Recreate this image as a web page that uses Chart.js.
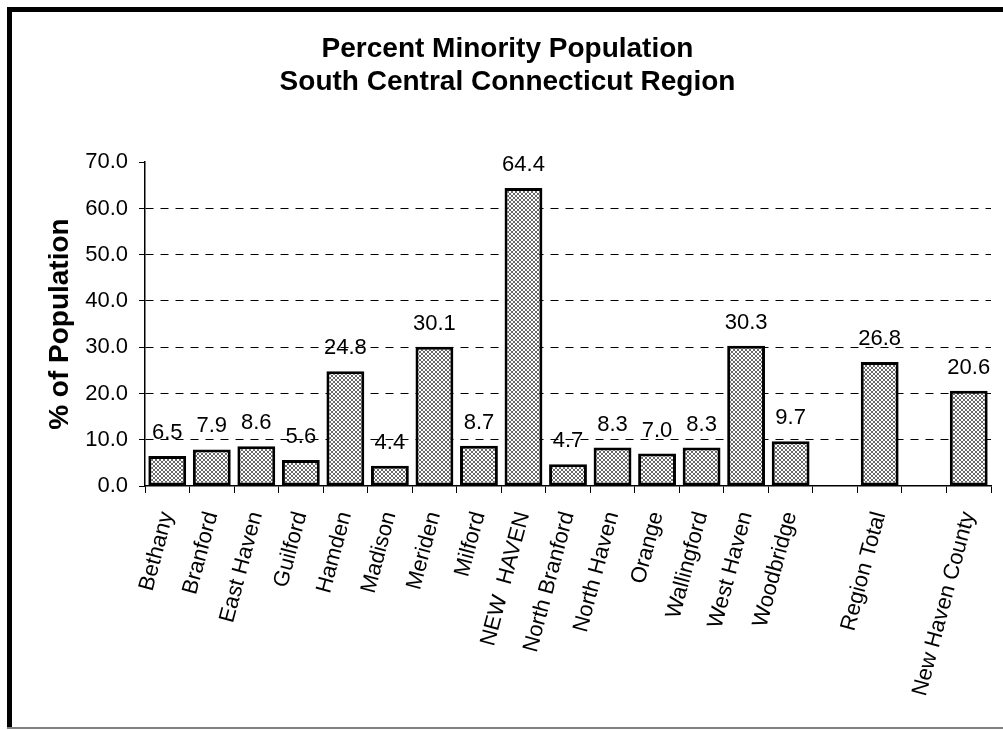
<!DOCTYPE html>
<html>
<head>
<meta charset="utf-8">
<title>Percent Minority Population</title>
<script src="https://cdn.jsdelivr.net/npm/chart.js@4.4.1/dist/chart.umd.min.js"></script>
<style>
  html, body { margin: 0; padding: 0; background: #fff; }
  #wrap { position: relative; width: 1003px; height: 730px; }
</style>
</head>
<body>
<div id="wrap"><canvas id="chart" width="1003" height="730"></canvas></div>
<script>
// Towns of the region, followed by the two summary bars (blank slots separate them)
const categories = [
  'Bethany', 'Branford', 'East Haven', 'Guilford', 'Hamden', 'Madison',
  'Meriden', 'Milford', 'NEW  HAVEN', 'North Branford', 'North Haven',
  'Orange', 'Wallingford', 'West Haven', 'Woodbridge', '',
  'Region Total', '', 'New Haven County'
];
// Percent of population belonging to a minority group
const minorityPct = [
  6.5, 7.9, 8.6, 5.6, 24.8, 4.4,
  30.1, 8.7, 64.4, 4.7, 8.3,
  7.0, 8.3, 30.3, 9.7, null,
  26.8, null, 20.6
];
const titleLines = ['Percent Minority Population', 'South Central Connecticut Region'];
const yAxisTitle = '% of Population';
const yTicks = { min: 0, max: 70, step: 10 };

const FONT = "'Liberation Sans', Arial, Helvetica, sans-serif";

// Small diamond cross-hatch used to fill the bars
function makeHatch() {
  const c = document.createElement('canvas');
  c.width = 4; c.height = 4;
  const g = c.getContext('2d');
  g.fillStyle = '#ffffff';
  g.fillRect(0, 0, 4, 4);
  g.fillStyle = '#6a6a6a';
  for (let i = 0; i < 4; i++) {
    g.fillRect(i, i, 1, 1);
    g.fillRect(3 - i, i, 1, 1);
  }
  return g.createPattern(c, 'repeat');
}

// White page with the chart-area frame (heavy left/top edges, light bottom edge)
const framePlugin = {
  id: 'frame',
  beforeDraw(chart) {
    const { ctx, width, height } = chart;
    ctx.save();
    ctx.fillStyle = '#ffffff';
    ctx.fillRect(0, 0, width, height);
    ctx.fillStyle = '#000000';
    ctx.fillRect(7, 7, 5, height - 8);
    ctx.fillRect(7, 7, width - 7, 5);
    ctx.fillStyle = '#808080';
    ctx.fillRect(7, height - 3, width - 7, 2);
    ctx.restore();
  }
};

// Value printed above each bar
const valueLabels = {
  id: 'valueLabels',
  afterDatasetsDraw(chart) {
    const { ctx } = chart;
    const meta = chart.getDatasetMeta(0);
    const data = chart.data.datasets[0].data;
    ctx.save();
    ctx.font = `22px ${FONT}`;
    ctx.fillStyle = '#000';
    ctx.textAlign = 'center';
    ctx.textBaseline = 'alphabetic';
    meta.data.forEach((bar, i) => {
      const v = data[i];
      if (v === null || v === undefined) return;
      ctx.fillText(v.toFixed(1), bar.x, bar.y - 17);
    });
    ctx.restore();
  }
};

const ctx = document.getElementById('chart').getContext('2d');
new Chart(ctx, {
  type: 'bar',
  data: {
    labels: categories,
    datasets: [{
      data: minorityPct,
      backgroundColor: makeHatch(),
      borderColor: '#000000',
      borderWidth: 3,
      borderSkipped: false,
      categoryPercentage: 1.0,
      barPercentage: 0.85
    }]
  },
  options: {
    responsive: false,
    animation: false,
    devicePixelRatio: 1,
    layout: { padding: { left: 24, right: 12, top: 14, bottom: 4 } },
    plugins: {
      legend: { display: false },
      tooltip: { enabled: false },
      title: {
        display: true,
        text: titleLines,
        color: '#000',
        font: { family: FONT, size: 28, weight: 'bold', lineHeight: 1.2 },
        padding: { top: 18, bottom: 63 }
      }
    },
    scales: {
      x: {
        offset: true,
        grid: {
          offset: true,
          drawOnChartArea: false,
          drawTicks: true,
          tickLength: 7,
          tickColor: '#000',
          tickWidth: 1
        },
        border: { display: true, color: '#000', width: 1.5 },
        ticks: {
          color: '#000',
          font: { family: FONT, size: 22 },
          minRotation: 75,
          maxRotation: 75,
          autoSkip: false,
          padding: 16
        },
        afterFit(axis) {
          axis.height = 240;
          axis.paddingLeft = 0;
          axis.paddingRight = 0;
        }
      },
      y: {
        min: yTicks.min,
        max: yTicks.max,
        grid: {
          color: (c) => (c.tick && (c.tick.value === yTicks.min || c.tick.value === yTicks.max)) ? 'rgba(0,0,0,0)' : '#000',
          lineWidth: 1,
          tickColor: '#000',
          tickLength: 6,
          tickWidth: 1
        },
        border: { display: true, color: '#000', width: 1.5, dash: [8, 7] },
        ticks: {
          stepSize: yTicks.step,
          color: '#000',
          font: { family: FONT, size: 22 },
          padding: 11,
          callback: (v) => Number(v).toFixed(1)
        },
        title: {
          display: true,
          text: yAxisTitle,
          color: '#000',
          font: { family: FONT, size: 28, weight: 'bold', lineHeight: 1.2 },
          padding: { top: 19, bottom: 0 }
        },
        afterFit(axis) { axis.width = 121; }
      }
    }
  },
  plugins: [framePlugin, valueLabels]
});
</script>
</body>
</html>
